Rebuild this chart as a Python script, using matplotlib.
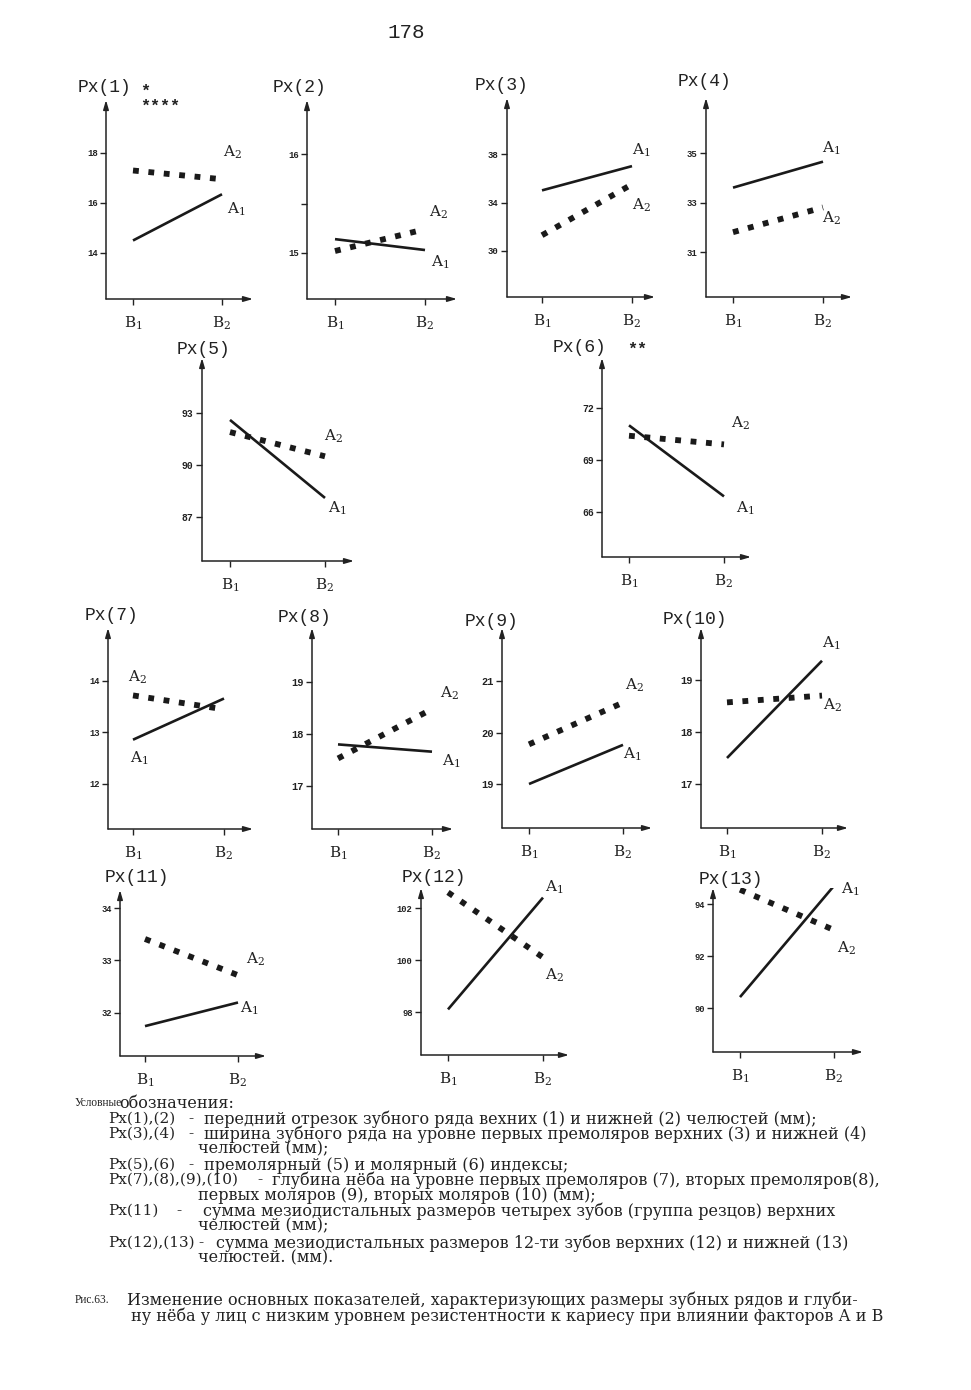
import matplotlib
matplotlib.use('Agg')
import matplotlib.pyplot as plt

W, H = 971, 1390
plt.rcParams['mathtext.fontset'] = 'dejavuserif'

# ---------------- data ----------------
panel_names = ['Px(1)', 'Px(2)', 'Px(3)', 'Px(4)', 'Px(5)', 'Px(6)', 'Px(7)',
               'Px(8)', 'Px(9)', 'Px(10)', 'Px(11)', 'Px(12)', 'Px(13)']
a1_values = [[14.5, 16.35], [15.14, 15.03], [35.0, 37.0], [33.6, 34.65],
             [92.6, 88.1], [71.0, 66.9], [12.86, 13.66], [17.8, 17.66],
             [19.0, 19.76], [17.5, 19.37], [31.75, 32.2], [98.1, 102.4],
             [90.42, 94.7]]
a2_values = [[17.3, 16.95], [15.02, 15.24], [31.3, 35.5], [31.8, 32.8],
             [91.9, 90.5], [70.4, 69.9], [13.72, 13.45], [17.53, 18.48],
             [19.77, 20.58], [18.57, 18.7], [33.41, 32.72], [102.6, 100.1],
             [94.55, 93.0]]
y_ticks = [[14, 16, 18], [15, 15.5, 16], [30, 34, 38], [31, 33, 35],
           [87, 90, 93], [66, 69, 72], [12, 13, 14], [17, 18, 19],
           [19, 20, 21], [17, 18, 19], [32, 33, 34], [98, 100, 102],
           [90, 92, 94]]
y_tick_labels = [['14', '16', '18'], ['15', '', '16'], ['30', '34', '38'],
                 ['31', '33', '35'], ['87', '90', '93'], ['66', '69', '72'],
                 ['12', '13', '14'], ['17', '18', '19'], ['19', '20', '21'],
                 ['17', '18', '19'], ['32', '33', '34'], ['98', '100', '102'],
                 ['90', '92', '94']]
x_labels = [r'$\mathrm{B}_{1}$', r'$\mathrm{B}_{2}$']
series_labels = [r'$\mathrm{A}_{1}$', r'$\mathrm{A}_{2}$']
page_number = '178'

legend_lines = [
    ('Px(1),(2)', '-', 'передний отрезок зубного ряда вехних (1) и нижней (2) челюстей (мм);'),
    ('Px(3),(4)', '-', 'ширина зубного ряда на уровне первых премоляров верхних (3) и нижней (4)'),
    ('', '', 'челюстей (мм);'),
    ('Px(5),(6)', '-', 'премолярный (5) и молярный (6) индексы;'),
    ('Px(7),(8),(9),(10)', '-', 'глубина нёба на уровне первых премоляров (7), вторых премоляров(8),'),
    ('', '', 'первых моляров (9), вторых моляров (10) (мм);'),
    ('Px(11)', '-', 'сумма мезиодистальных размеров четырех зубов (группа резцов) верхних'),
    ('', '', 'челюстей (мм);'),
    ('Px(12),(13)', '-', 'сумма мезиодистальных размеров 12-ти зубов верхних (12) и нижней (13)'),
    ('', '', 'челюстей. (мм).'),
]
caption_lines = ['Изменение основных показателей, характеризующих размеры зубных рядов и глуби-',
                 'ну нёба у лиц с низким уровнем резистентности к кариесу при влиянии факторов А и В']

# ---------------- layout (pixels) ----------------
# y-axis x, arrow end x, x-axis y, top y, B1 x, B2 x, (value, y) high tick, (value, y) low tick
layout = [
    (106, 253, 299, 100, 133, 222, (18, 153), (14, 253)),
    (307, 457, 299, 100, 335, 425, (16, 154), (15, 253)),
    (507, 655, 297, 98, 542, 632, (38, 154), (30, 251)),
    (706, 852, 297, 98, 733, 823, (35, 153), (31, 252)),
    (202, 354, 561, 358, 230, 325, (93, 413), (87, 517)),
    (602, 751, 557, 358, 629, 724, (72, 408), (66, 512)),
    (108, 253, 829, 628, 133, 224, (14, 681), (12, 784)),
    (312, 453, 829, 628, 338, 432, (19, 682), (17, 786)),
    (502, 652, 828, 628, 529, 623, (21, 681), (19, 784)),
    (701, 848, 828, 628, 727, 822, (19, 680), (17, 784)),
    (120, 266, 1056, 890, 145, 238, (34, 908), (32, 1013)),
    (421, 569, 1055, 888, 448, 543, (102, 908), (98, 1012)),
    (713, 863, 1052, 888, 740, 834, (94, 904), (90, 1008)),
]
title_pos = [(78, 88), (273, 88), (475, 85), (678, 81), (177, 350), (553, 348),
             (85, 616), (278, 617), (465, 621), (663, 620), (105, 877),
             (402, 878), (699, 880)]
a1_pos = [(227, 209), (431, 262), (632, 150), (822, 148), (328, 508), (736, 508),
          (130, 758), (442, 761), (623, 754), (822, 643), (240, 1008),
          (545, 887), (841, 889)]
a2_pos = [(223, 152), (429, 212), (632, 205), (822, 218), (324, 436), (731, 423),
          (128, 677), (440, 693), (625, 685), (823, 705), (246, 959),
          (545, 975), (837, 948)]
tick_fs = [6.5, 6.5, 6.5, 6.5, 7, 7, 6.3, 7.5, 7.5, 7.5, 6.3, 6.3, 6.3]


def fx(x):
    return x / W


def fy(y):
    return 1 - y / H


fig = plt.figure(figsize=(W / 100, H / 100), dpi=100)
fig.patch.set_facecolor('white')

mono = 'Liberation Mono'
serif = 'DejaVu Serif'
ink = '#1a1a1a'

for i in range(len(panel_names)):
    L, R, B, T, b1, b2, (vh, yh), (vl, yl) = layout[i]
    ax = fig.add_axes([fx(L), fy(B), (R - L) / W, (B - T) / H])
    ax.patch.set_visible(False)
    ax.set_xlim((L - b1) / (b2 - b1), (R - b1) / (b2 - b1))
    upp = (vh - vl) / (yl - yh)
    ax.set_ylim(vl - (B - yl) * upp, vh + (yh - T) * upp)
    ax.plot([0, 1], a1_values[i], color=ink, lw=1.9, solid_capstyle='butt')
    ax.plot([0, 1], a2_values[i], color=ink, lw=4.2,
            linestyle=(0, (1, 1.65)), dash_capstyle='butt')
    for s in ax.spines.values():
        s.set_visible(False)
    arrow = dict(arrowstyle='-|>,head_length=0.55,head_width=0.16', lw=1.1,
                 color='#222222', shrinkA=0, shrinkB=0)
    ax.annotate('', xy=(0, 1), xytext=(0, 0), xycoords='axes fraction',
                arrowprops=arrow)
    ax.annotate('', xy=(1, 0), xytext=(0, 0), xycoords='axes fraction',
                arrowprops=arrow)
    ax.set_xticks([0, 1])
    ax.set_xticklabels(x_labels, fontsize=11, color='#222222')
    ax.set_yticks(y_ticks[i])
    ax.set_yticklabels(y_tick_labels[i], fontsize=tick_fs[i], family=mono,
                       fontweight='bold', color='#222222')
    ax.tick_params(axis='x', direction='out', length=4, width=1.0, pad=7,
                   color='#222222')
    ax.tick_params(axis='y', direction='out', length=4, width=1.0, pad=2,
                   color='#222222')
    # panel title
    tx, ty = title_pos[i]
    fig.text(fx(tx), fy(ty), panel_names[i], family=mono, fontsize=13,
             ha='left', va='center', color='#222222')
    # series labels
    for lab, (px, py) in zip(series_labels, [a1_pos[i], a2_pos[i]]):
        fig.text(fx(px), fy(py), lab, fontsize=11, ha='left', va='center',
                 color='#222222')

# significance marks
fig.text(fx(140), fy(91), '*', family=mono, fontsize=12, fontweight='bold',
         ha='left', va='center', color='#222222')
fig.text(fx(140), fy(106), '****', family=mono, fontsize=12, fontweight='bold',
         ha='left', va='center', color='#222222')
fig.text(fx(627), fy(349), '**', family=mono, fontsize=12, fontweight='bold',
         ha='left', va='center', color='#222222')

# page number
fig.text(fx(387), fy(33), page_number, family=mono, fontsize=15,
         ha='left', va='center', color='#222222')

# legend
body_fs = 11.5
fig.text(fx(75), fy(1103), 'Условные', family='Liberation Serif', fontsize=8.3,
         ha='left', va='center', color='#222222')
fig.text(fx(119), fy(1103), 'обозначения:', family=serif, fontsize=body_fs,
         ha='left', va='center', color='#222222')

legend_y = [1119, 1134, 1149, 1165, 1180, 1195, 1211, 1226, 1243, 1258]
label_dash_desc_x = [(108, 188, 204), (108, 188, 204), (None, None, 198),
                     (108, 188, 204), (108, 257, 272), (None, None, 198),
                     (108, 176, 203), (None, None, 198), (108, 198, 216),
                     (None, None, 198)]
for (lab, dash, desc), y, (lx, dx, sx) in zip(legend_lines, legend_y, label_dash_desc_x):
    if lab:
        fig.text(fx(lx), fy(y), lab, family=serif, fontsize=11, ha='left',
                 va='center', color='#222222')
        fig.text(fx(dx), fy(y), dash, family=serif, fontsize=11, ha='left',
                 va='center', color='#222222')
    fig.text(fx(sx), fy(y), desc, family=serif, fontsize=body_fs, ha='left',
             va='center', color='#222222')

fig.text(fx(75), fy(1300), 'Рис.63.', family='Liberation Serif', fontsize=8.3,
         ha='left', va='center', color='#222222')
fig.text(fx(127), fy(1300), caption_lines[0], family=serif, fontsize=body_fs,
         ha='left', va='center', color='#222222')
fig.text(fx(131), fy(1316), caption_lines[1], family=serif, fontsize=body_fs,
         ha='left', va='center', color='#222222')

fig.savefig('out.png', dpi=100, facecolor='white')
